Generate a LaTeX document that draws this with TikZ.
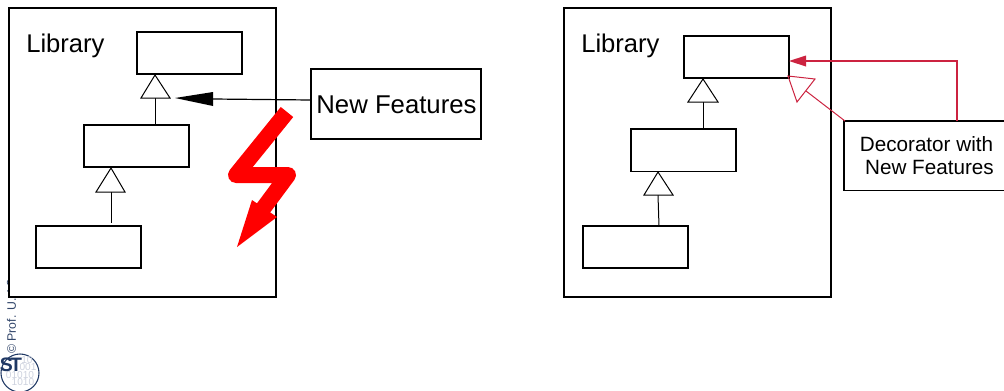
\documentclass[tikz,border=0pt]{standalone}
\usepackage{fontspec}
\setmainfont{Liberation Sans}
\definecolor{navy}{HTML}{1F3864}
\definecolor{crim}{HTML}{CC2340}
\definecolor{digit}{HTML}{CDD2DE}
\tikzset{
  box/.style={draw=black,line width=1.15pt,fill=white,inner sep=0pt,outer sep=0pt,anchor=north west,align=center},
  cls/.style={box,minimum width=78.75pt,minimum height=31.5pt},
  stem/.style={draw=black,line width=0.75pt},
  tri/.style={draw=black,line width=0.75pt,fill=white,line join=miter},
  red line/.style={draw=crim,line width=1pt},
  red thin/.style={draw=crim,line width=0.75pt},
  dig/.style={text=digit,inner sep=0pt,font=\fontsize{7.6pt}{8pt}\selectfont}
}
\begin{document}
\begin{tikzpicture}[x=0.75pt,y=-0.75pt]
\useasboundingbox (0,0) rectangle (1004,390);
% side credit and logo
\node[rotate=90,anchor=base west,text=navy!80!gray,font=\fontsize{9.2pt}{10pt}\selectfont,inner sep=0pt] (credit) at (16,354) {© Prof. U. Aßmann};
\node[circle,draw=navy,line width=0.8pt,minimum size=28.5pt,inner sep=0pt,outer sep=0pt] (logo) at (20,373) {};
\node[dig] (d1) at (27,360) {10};
\node[dig] (d2) at (28,367) {001};
\node[dig] (d3) at (20,375) {01010};
\node[dig] (d4) at (23,382) {1010};
\node[text=navy,font=\bfseries\fontsize{14.6pt}{16pt}\selectfont,inner sep=0pt] (st) at (11,364.5) {S\kern-2pt T};
% left part
\node[box,minimum width=200.25pt,minimum height=216.75pt] (lib1) at (9,8) {};
\node[inner sep=0pt,anchor=west,font=\fontsize{19.2pt}{22pt}\selectfont] (lab1) at (26,46) {Library};
\node[cls] (a1) at (137,32) {};
\node[cls] (a2) at (84,125) {};
\node[cls] (a3) at (36,226) {};
\coordinate (t1) at (155,75); \coordinate (t1l) at (141,98); \coordinate (t1r) at (170,98); \coordinate (t1b) at (155,98);
\coordinate (t2) at (111,168); \coordinate (t2l) at (96,192); \coordinate (t2r) at (125,192); \coordinate (t2b) at (111,192);
\draw[stem] (t1b) -- (155,125);
\draw[stem] (t2b) -- (111,223);
\draw[tri] (t1) -- (t1l) -- (t1r) -- cycle;
\draw[tri] (t2) -- (t2l) -- (t2r) -- cycle;
\node[box,minimum width=127.5pt,minimum height=52.5pt] (nf) at (311,69) {};
\node[inner sep=0pt,font=\fontsize{19.3pt}{22pt}\selectfont] (nft) at (396.5,105) {New Features};
\coordinate (h0) at (175,98); \coordinate (h1) at (213,92); \coordinate (h2) at (213,106); \coordinate (h3) at (213,99);
\coordinate (nfw) at (311,100);
\draw[stem,line width=0.9pt] (nfw) -- (h3);
\fill[black] (h0) -- (h1) -- (h2) -- cycle;
% lightning
\draw[red,line width=12pt,line join=round] (287,112) -- (236,175) -- (288,175) -- (262,210);
\fill[red] (237,247) -- (252,200) -- (277,217) -- cycle;
% right part
\node[box,minimum width=200.25pt,minimum height=216.75pt] (lib2) at (564,8) {};
\node[inner sep=0pt,anchor=west,font=\fontsize{19.2pt}{22pt}\selectfont] (lab2) at (581,46) {Library};
\node[cls] (b1) at (684,36) {};
\node[cls,minimum height=32pt] (b2) at (631,129) {};
\node[cls] (b3) at (583,226) {};
\coordinate (u1) at (703,79); \coordinate (u1l) at (688,102); \coordinate (u1r) at (718,102); \coordinate (u1b) at (703,102);
\coordinate (u2) at (658,172); \coordinate (u2l) at (644,195); \coordinate (u2r) at (673,195); \coordinate (u2b) at (658,195);
\draw[stem] (u1b) -- (703,129);
\draw[stem] (u2b) -- (659,226);
\draw[tri] (u1) -- (u1l) -- (u1r) -- cycle;
\draw[tri] (u2) -- (u2l) -- (u2r) -- cycle;
\node[box,minimum width=123.75pt,minimum height=52pt,font=\fontsize{15.5pt}{17.25pt}\selectfont] (dec) at (844,121) {Decorator with\\\hspace*{4.5pt}New Features};
% red connectors
\coordinate (r0) at (957,121); \coordinate (r1) at (957,61); \coordinate (r2) at (806,61);
\draw[red line] (r0) -- (r1) -- (r2);
\fill[crim] (789,61) -- (806,55.5) -- (806,66.5) -- cycle;
\coordinate (o0) at (788,76); \coordinate (o1) at (815,79); \coordinate (o2) at (797,102); \coordinate (o3) at (806,91); \coordinate (o4) at (845,121);
\draw[red thin] (o4) -- (o3);
\draw[red thin,line join=miter] (o0) -- (o1) -- (o2) -- cycle;
\end{tikzpicture}
\end{document}
